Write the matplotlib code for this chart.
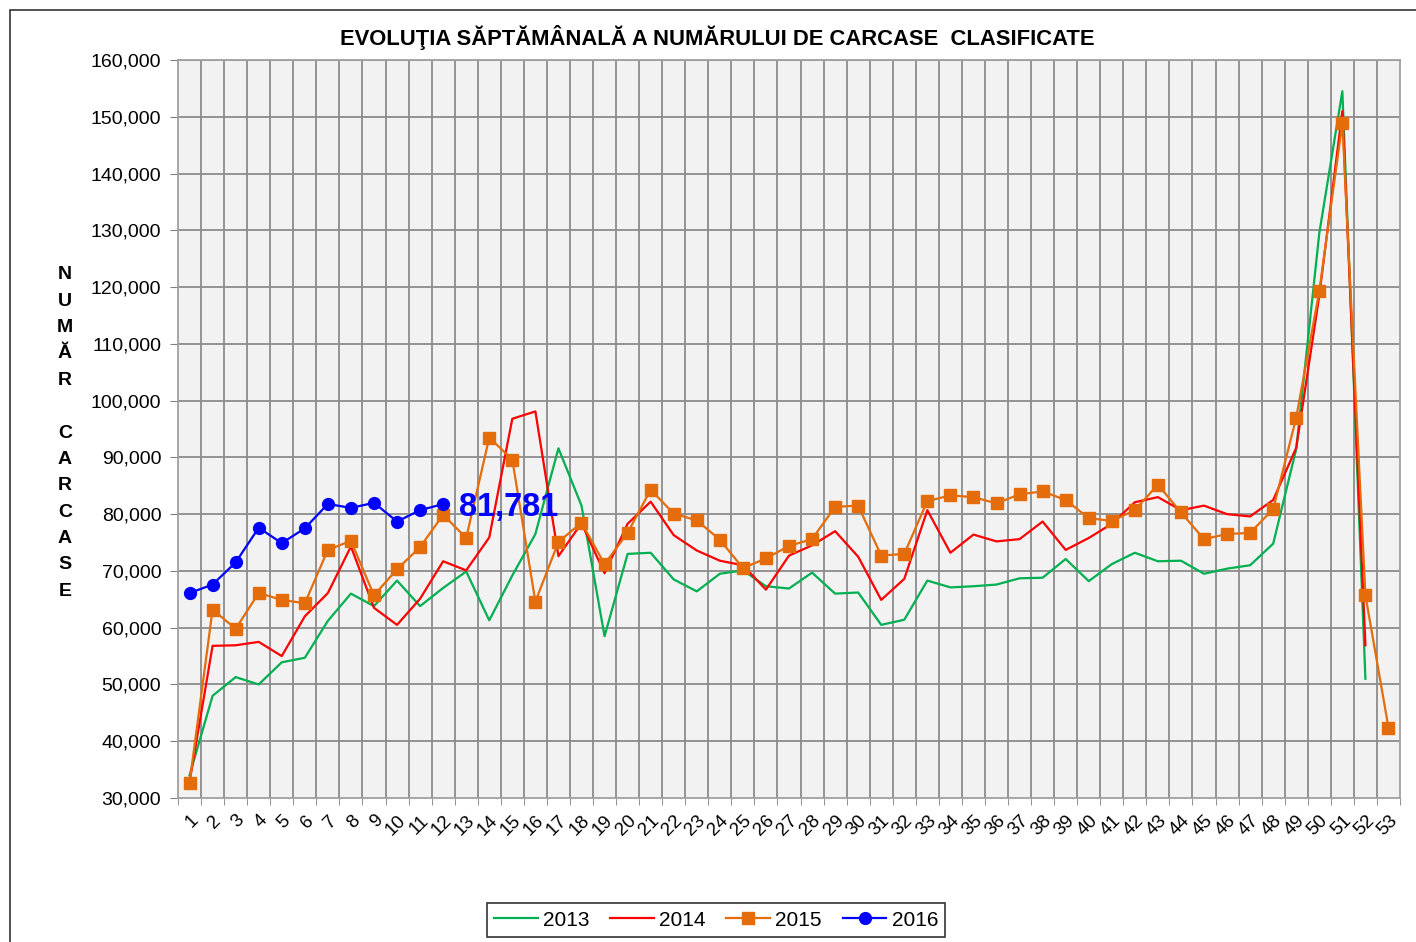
import matplotlib
matplotlib.use("Agg")
import matplotlib.pyplot as plt
from matplotlib.ticker import FuncFormatter, MultipleLocator, FixedLocator
from matplotlib.patches import Rectangle

plt.rcParams['font.family'] = ['Liberation Sans', 'DejaVu Sans']

weeks = list(range(1, 54))

s2013 = [34000, 48000, 51300, 50000, 53900, 54700, 61200, 66000, 63800, 68300,
         63800, 67000, 69900, 61300, 69200, 76500, 91600, 81500, 58500, 73000,
         73200, 68500, 66400, 69500, 70100, 67300, 66900, 69700, 66000, 66200,
         60500, 61400, 68300, 67100, 67300, 67600, 68700, 68800, 72100, 68200,
         71200, 73200, 71700, 71800, 69500, 70400, 71000, 74800, 91500, 129500,
         154500, 51000]
s2014 = [32800, 56800, 56900, 57500, 55000, 62000, 66100, 74300, 63500, 60500,
         65100, 71700, 70100, 75900, 96800, 98100, 72600, 78400, 69600, 78300,
         82200, 76300, 73600, 71800, 71000, 66700, 72700, 74500, 77000, 72500,
         64900, 68600, 80700, 73200, 76400, 75200, 75600, 78700, 73700, 75800,
         78300, 82100, 83000, 80700, 81500, 80000, 79600, 82500, 91700, 118500,
         151000, 56900]
s2015 = [32600, 63200, 59800, 66100, 64900, 64300, 73700, 75300, 65700, 70300,
         74200, 79900, 75800, 93500, 89600, 64600, 75100, 78500, 71200, 76700,
         84300, 80100, 78900, 75500, 70500, 72200, 74400, 75600, 81300, 81500,
         72700, 73000, 82300, 83300, 83000, 81900, 83500, 84000, 82500, 79300,
         78800, 80700, 85200, 80300, 75600, 76500, 76700, 80900, 97000, 119300,
         148900, 65700, 42400]
s2016 = [66100, 67600, 71500, 77600, 74900, 77500, 81800, 81100, 82000, 78700,
         80700, 81781]

labels = ['2013', '2014', '2015', '2016']
colors = ['#00B050', '#FF0000', '#E46C0A', '#0000FF']

W, H = 1416, 942
fig = plt.figure(figsize=(W / 100, H / 100), dpi=100)
fig.patch.set_facecolor('white')

# outer chart border
fig.add_artist(Rectangle((10 / W, -0.02), 1.05, (H - 10) / H + 0.02,
                         transform=fig.transFigure, fill=False,
                         edgecolor='#333333', linewidth=1.2))

left, right, top, bottom = 178, 1400, 60, 798
ax = fig.add_axes([left / W, 1 - bottom / H, (right - left) / W, (bottom - top) / H])
ax.set_facecolor('#F2F2F2')

ax.plot(weeks[:len(s2013)], s2013, color=colors[0], lw=1.6, label=labels[0], zorder=3)
ax.plot(weeks[:len(s2014)], s2014, color=colors[1], lw=1.6, label=labels[1], zorder=4)
ax.plot(weeks[:len(s2015)], s2015, color=colors[2], lw=1.6, marker='s', ms=8.5,
        label=labels[2], zorder=5)
ax.plot(weeks[:len(s2016)], s2016, color=colors[3], lw=1.6, marker='o', ms=8.5,
        label=labels[3], zorder=6)

ax.text(len(s2016) + 0.7, s2016[-1] - 600, f"{s2016[-1]:,}", color='#0000FF',
        fontsize=23.5, fontweight='bold', ha='left', va='center', zorder=7)

ax.set_xlim(0.5, 53.5)
ax.set_ylim(30000, 160000)
ax.yaxis.set_major_locator(MultipleLocator(10000))
ax.yaxis.set_major_formatter(FuncFormatter(lambda v, p: f"{int(v):,}"))
ax.set_xticks(weeks)
ax.set_xticklabels([str(w) for w in weeks], rotation=45, ha='right', va='top',
                   rotation_mode='anchor', fontsize=13.5)
ax.xaxis.set_minor_locator(FixedLocator([k + 0.5 for k in range(0, 54)]))
ax.tick_params(axis='x', which='major', length=0, pad=10)
ax.tick_params(axis='x', which='minor', length=5, color='#808080')
ax.tick_params(axis='y', length=6, color='#808080', labelsize=14, pad=6)

ax.grid(False)
for y in range(40000, 160001, 10000):
    ax.axhline(y, color='#8C8C8C', lw=1.3, zorder=1)
for k in range(1, 53):
    ax.axvline(k + 0.5, color='#8C8C8C', lw=1.3, zorder=1)
for sp in ax.spines.values():
    sp.set_color('#A0A0A0')
    sp.set_linewidth(1.3)

fig.text(717 / W, 1 - 37 / H,
         "EVOLUŢIA SĂPTĂMÂNALĂ A NUMĂRULUI DE CARCASE  CLASIFICATE",
         ha='center', va='center', fontsize=15.8, fontweight='bold')

ylab = "N\nU\nM\nĂ\nR\n\nC\nA\nR\nC\nA\nS\nE"
fig.text(65 / W, 1 - 433 / H, ylab, ha='center', va='center', fontsize=14,
         fontweight='bold', linespacing=1.72)

leg = fig.legend(loc='center', bbox_to_anchor=(716 / W, 1 - 920 / H), ncol=4,
                 fontsize=15, frameon=True, fancybox=False, edgecolor='black',
                 handlelength=2.1, columnspacing=1.0, borderpad=0.35,
                 handletextpad=0.25, borderaxespad=0)
leg.get_frame().set_linewidth(1.2)

fig.savefig('out.png', dpi=100)
